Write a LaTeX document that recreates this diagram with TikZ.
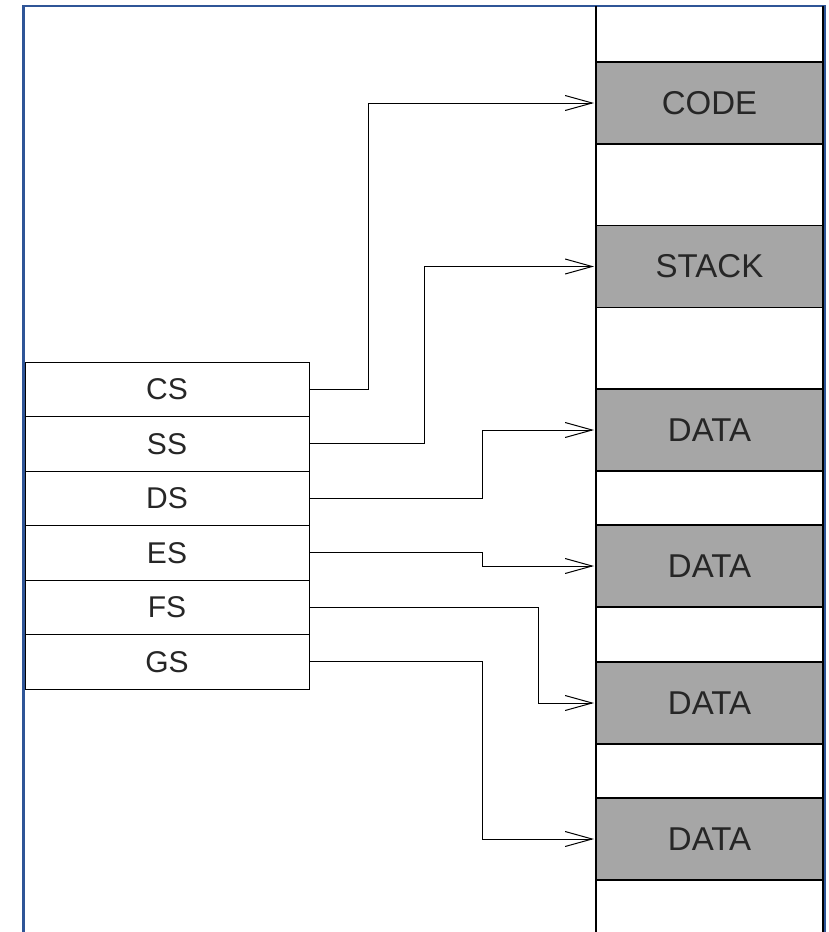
\documentclass[tikz,border=0pt]{standalone}
\usepackage{fontspec}
\setmainfont{Liberation Sans}
\usetikzlibrary{positioning,arrows.meta}

\definecolor{framebl}{HTML}{2F5597}
\definecolor{seggray}{HTML}{A6A6A6}

\tikzset{
  reg/.style={draw, line width=1pt, minimum width=284pt, minimum height=54.5pt,
    inner sep=0pt, outer sep=0pt, font=\fontsize{30}{30}\selectfont, text=black!85},
  seg/.style={draw, line width=1.2pt, fill=seggray, minimum width=227pt, minimum height=82pt,
    inner sep=0pt, outer sep=0pt, font=\fontsize{33}{33}\selectfont, text=black!85},
  conn/.style={line width=1pt, -{Straight Barb[length=27pt,width=15pt,line width=1pt]}, shorten >=2pt}
}

\begin{document}
\begin{tikzpicture}[x=1pt,y=-1pt]
        \useasboundingbox (0,0) rectangle (828,932);

        % Frame
        \draw[framebl, line width=2.5pt] (23.5,932) -- (23.5,6) -- (825,6) -- (825,932);

        % Memory column
        \draw[line width=1.2pt] (596,6) -- (596,932);
        \draw[line width=1.2pt] (823,6) -- (823,932);
        \node[seg] (code) at (709.5,103) {CODE};
        \node[seg] (stack) at (709.5,266.5) {STACK};
        \node[seg] (data1) at (709.5,430) {DATA};
        \node[seg] (data2) at (709.5,566) {DATA};
        \node[seg] (data3) at (709.5,703) {DATA};
        \node[seg] (data4) at (709.5,839) {DATA};

        % Segment registers
        \node[reg] (cs) at (167,389.3) {CS};
        \node[reg, below=0pt of cs] (ss) {SS};
        \node[reg, below=0pt of ss] (ds) {DS};
        \node[reg, below=0pt of ds] (es) {ES};
        \node[reg, below=0pt of es] (fs) {FS};
        \node[reg, below=0pt of fs] (gs) {GS};

        % Pointers
        \draw[conn] (cs.east) -- ++(59,0) |- (code.west);
        \draw[conn] (ss.east) -- ++(115,0) |- (stack.west);
        \draw[conn] (ds.east) -- ++(173,0) |- (data1.west);
        \draw[conn] (es.east) -- ++(173,0) |- (data2.west);
        \draw[conn] (fs.east) -- ++(229,0) |- (data3.west);
        \draw[conn] (gs.east) -- ++(173,0) |- (data4.west);
\end{tikzpicture}
\end{document}
